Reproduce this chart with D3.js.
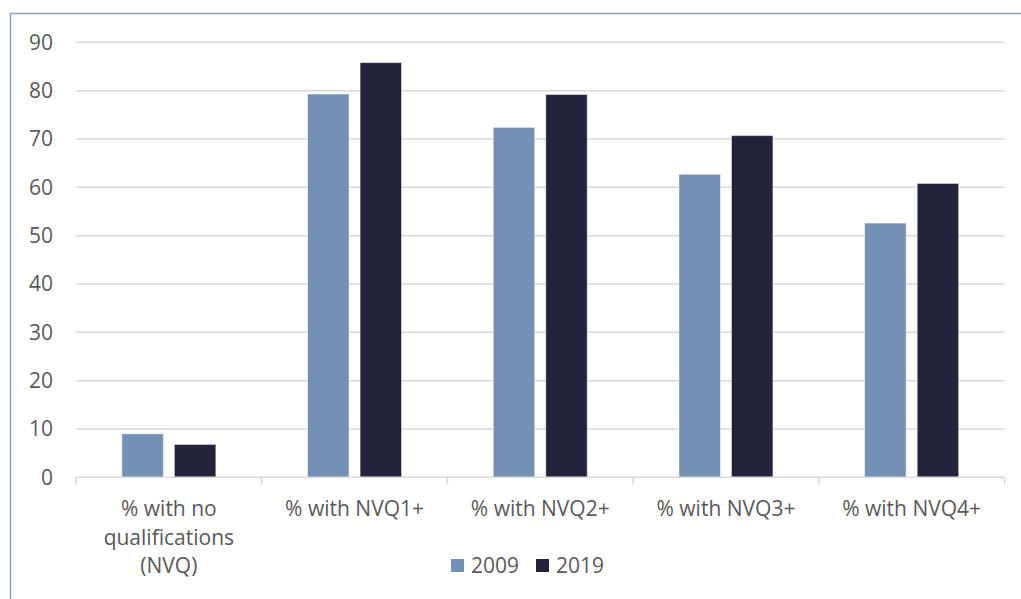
<!DOCTYPE html>
<html><head><meta charset="utf-8">
<script src="https://cdn.jsdelivr.net/npm/d3@7"></script>
<style>body{margin:0;background:#fff}svg{display:block}text{font-family:"Open Sans",sans-serif}</style>
</head><body><svg id="c" width="1021" height="599"></svg>
<script>
const categories = [["% with no","qualifications","(NVQ)"],["% with NVQ1+"],["% with NVQ2+"],["% with NVQ3+"],["% with NVQ4+"]];
const seriesNames = ["2009","2019"];
const values2009 = [9.0, 79.3, 72.4, 62.7, 52.6];
const values2019 = [6.8, 85.8, 79.2, 70.7, 60.8];
const yTicks = [0,10,20,30,40,50,60,70,80,90];
const colors = ["#7490b4","#23243c"];

const svg = d3.select("#c");
const catKeys = categories.map((c,i)=>i);
const x = d3.scaleBand().domain(catKeys).range([76,1004.5]).padding(0);
const y = d3.scaleLinear().domain([0,90]).range([477.3,42.3]);
const series = [values2009, values2019];

// border
svg.append("path").attr("d","M10.5,600 V13.5 H1021").attr("fill","none").attr("stroke","#8aa0c4").attr("stroke-width",1.5);

// gridlines
svg.append("g").selectAll("line").data(yTicks.filter(t=>t>0)).join("line")
  .attr("x1",76).attr("x2",1004.5).attr("y1",d=>y(d)).attr("y2",d=>y(d))
  .attr("stroke","#d9d9d9").attr("stroke-width",1.5);

// y labels
svg.append("g").selectAll("text").data(yTicks).join("text")
  .attr("x",53).attr("y",d=>y(d)).attr("dy","0.35em").attr("text-anchor","end")
  .attr("fill","#595959").attr("font-size",21).text(d=>d);

// bars
const inner = d3.scaleBand().domain([0,1]).range([0,94]).paddingInner(0.21).paddingOuter(0);
series.forEach((vals,s)=>{
  svg.append("g").selectAll("rect").data(vals).join("rect")
    .attr("x",(d,i)=>x(i)+x.bandwidth()/2-47+inner(s))
    .attr("width",inner.bandwidth())
    .attr("y",d=>y(d)).attr("height",d=>y(0)-y(d))
    .attr("fill",colors[s]).attr("stroke","#ffffff").attr("stroke-opacity",0.5).attr("stroke-width",1);
});

// x axis
svg.append("line").attr("x1",76).attr("x2",1004.5).attr("y1",y(0)).attr("y2",y(0)).attr("stroke","#d9d9d9").attr("stroke-width",1.5);
const bounds = catKeys.map(i=>x(i)).concat([1004.5]);
svg.append("g").selectAll("line").data(bounds).join("line")
  .attr("x1",d=>d).attr("x2",d=>d).attr("y1",y(0)).attr("y2",y(0)+7)
  .attr("stroke","#d9d9d9").attr("stroke-width",1.5);

// category labels
const lab = svg.append("g").selectAll("text").data(categories).join("text")
  .attr("text-anchor","middle").attr("fill","#595959").attr("font-size",21)
  .attr("transform",(d,i)=>`translate(${x(i)+x.bandwidth()/2},509)`);
lab.selectAll("tspan").data(d=>d).join("tspan")
  .attr("x",0).attr("y",(d,j)=>j*28.5).attr("dy","0.35em").text(d=>d);

// legend
const leg = svg.append("g").selectAll("g").data(seriesNames).join("g")
  .attr("transform",(d,i)=>`translate(${451+i*85},559)`);
leg.append("rect").attr("width",13).attr("height",13).attr("fill",(d,i)=>colors[i]);
leg.append("text").attr("x",20).attr("y",7).attr("dy","0.35em").attr("fill","#595959").attr("font-size",21).text(d=>d);
</script></body></html>
